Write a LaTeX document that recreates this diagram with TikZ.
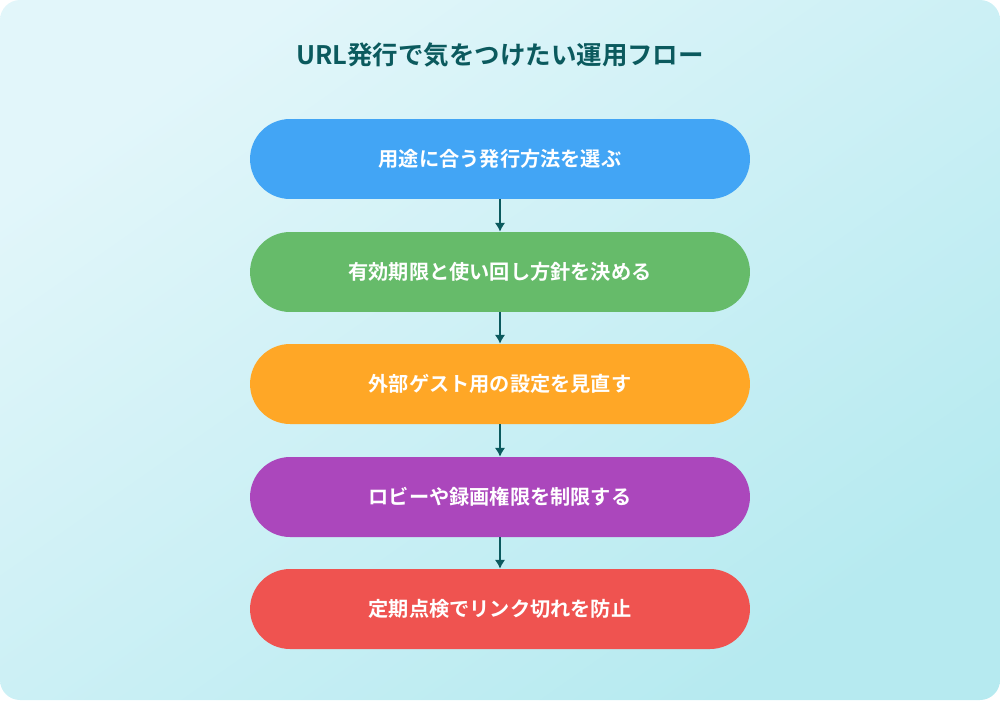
\documentclass[tikz,border=0pt]{standalone}
\usepackage{fontspec}
\usetikzlibrary{arrows.meta}
\newfontfamily\cjk{Noto Sans CJK JP}[BoldFont={* Bold}]
\begin{document}
\begin{tikzpicture}[x=0.02cm,y=-0.02cm,
  flowbox/.style={rounded corners=0.8cm,minimum width=10cm,minimum height=1.6cm,text=white,font=\cjk\bfseries\fontsize{11.5}{12}\selectfont,inner sep=0pt},
  arr/.style={line width=1.2pt,-{Latex[length=5pt,width=6pt]}}]
\definecolor{bgA}{HTML}{E2F6FA}\definecolor{bgB}{HTML}{B6EAF0}
\definecolor{c1}{HTML}{42A5F5}\definecolor{c2}{HTML}{66BB6A}\definecolor{c3}{HTML}{FFA726}\definecolor{c4}{HTML}{AB47BC}\definecolor{c5}{HTML}{EF5350}
\definecolor{ttl}{HTML}{0B5A5E}
\useasboundingbox (0,0) rectangle (1000,700);
\shade[rounded corners=0.4cm,left color=bgA,right color=bgB,shading angle=35] (0,0) rectangle (1000,700);
\node[text=ttl,font=\cjk\bfseries\fontsize{14.5}{15}\selectfont] (t) at (500,55) {URL発行で気をつけたい運用フロー};
\node[flowbox,fill=c1] (a) at (500,159) {用途に合う発行方法を選ぶ};
\node[flowbox,fill=c2] (b) at (500,272) {有効期限と使い回し方針を決める};
\node[flowbox,fill=c3] (c) at (500,384) {外部ゲスト用の設定を見直す};
\node[flowbox,fill=c4] (d) at (500,497) {ロビーや録画権限を制限する};
\node[flowbox,fill=c5] (e) at (500,609) {定期点検でリンク切れを防止};
\draw[arr,draw=ttl,fill=ttl] (a) -- (b);
\draw[arr,draw=ttl,fill=ttl] (b) -- (c);
\draw[arr,draw=ttl,fill=ttl] (c) -- (d);
\draw[arr,draw=ttl,fill=ttl] (d) -- (e);
\end{tikzpicture}
\end{document}
